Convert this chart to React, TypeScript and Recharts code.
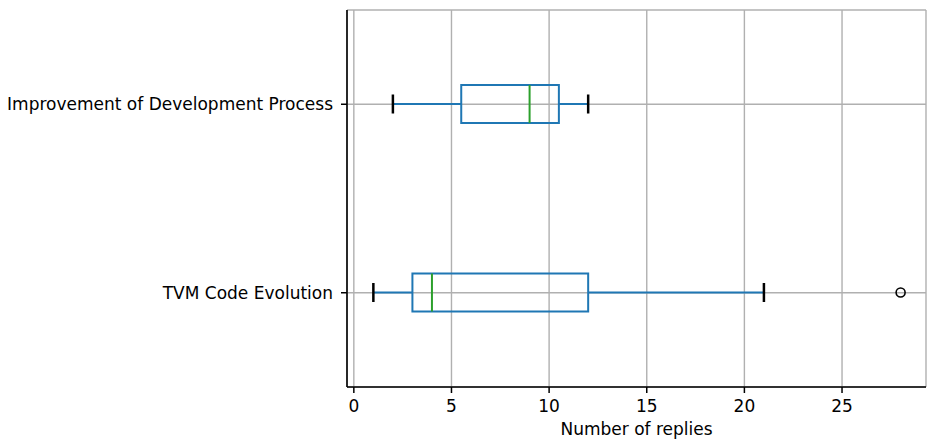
import { Bar, CartesianGrid, ComposedChart, XAxis, YAxis } from 'recharts';

// replies per topic
const categories = ['Improvement of Development Process', 'TVM Code Evolution'];
const whiskerLow = [2, 1];
const quartile1 = [5.5, 3];
const medians = [9, 4];
const quartile3 = [10.5, 12];
const whiskerHigh = [12, 21];
const outliers: number[][] = [[], [28]];
const xTicks = [0, 5, 10, 15, 20, 25];

const data = categories.map((name, i) => {
  const all = [whiskerLow[i], whiskerHigh[i], ...outliers[i]];
  return {
    name,
    lo: whiskerLow[i],
    q1: quartile1[i],
    med: medians[i],
    q3: quartile3[i],
    hi: whiskerHigh[i],
    out: outliers[i],
    span: [Math.min(...all), Math.max(...all)],
  };
});

const BLUE = '#1f77b4';
const GREEN = '#2ca02c';
const FONT = 'DejaVu Sans';
const X_DOMAIN: [number, number] = [-0.35, 29.3];

// the bar spans the full range of the box, so its x/width give the scale
function BoxShape(props: any) {
  const { x, y, width, height, payload } = props;
  const [a, b] = payload.span;
  const px = (v: number) => x + ((v - a) / (b - a)) * width;
  const cy = y + height / 2;
  const top = y;
  const bottom = y + height;
  const cap = height / 4;
  return (
    <g>
      <line x1={px(payload.lo)} x2={px(payload.q1)} y1={cy} y2={cy} stroke={BLUE} strokeWidth={2} />
      <line x1={px(payload.q3)} x2={px(payload.hi)} y1={cy} y2={cy} stroke={BLUE} strokeWidth={2} />
      <rect
        x={px(payload.q1)}
        y={top}
        width={px(payload.q3) - px(payload.q1)}
        height={bottom - top}
        fill="none"
        stroke={BLUE}
        strokeWidth={2}
      />
      <line x1={px(payload.med)} x2={px(payload.med)} y1={top} y2={bottom} stroke={GREEN} strokeWidth={2} />
      <line x1={px(payload.lo)} x2={px(payload.lo)} y1={cy - cap} y2={cy + cap} stroke="#000" strokeWidth={2.5} />
      <line x1={px(payload.hi)} x2={px(payload.hi)} y1={cy - cap} y2={cy + cap} stroke="#000" strokeWidth={2.5} />
      {payload.out.map((v: number, k: number) => (
        <circle key={k} cx={px(v)} cy={cy} r={4.5} fill="none" stroke="#000" strokeWidth={1.6} />
      ))}
    </g>
  );
}

export default function App() {
  return (
    <div style={{ position: 'absolute', left: 0, top: 0 }}>
      <ComposedChart
        width={927}
        height={439}
        data={data}
        layout="vertical"
        margin={{ top: 10, right: 1, bottom: 0, left: 0 }}
        style={{ fontFamily: FONT }}
      >
        <CartesianGrid stroke="#b0b0b0" strokeWidth={1.4} />
        <XAxis
          type="number"
          domain={X_DOMAIN}
          ticks={xTicks}
          allowDataOverflow
          height={52}
          tickSize={6}
          tickMargin={7}
          tick={{ fill: '#000', fontSize: 17, fontFamily: FONT }}
          tickLine={{ stroke: '#000', strokeWidth: 1.5 }}
          axisLine={{ stroke: '#000', strokeWidth: 1.6 }}
          label={{ value: 'Number of replies', position: 'insideBottom', offset: 4, fill: '#000', fontSize: 17, fontFamily: FONT }}
        />
        <XAxis
          xAxisId="top"
          orientation="top"
          type="number"
          domain={X_DOMAIN}
          allowDataOverflow
          height={0}
          tick={false}
          tickLine={false}
          axisLine={{ stroke: '#000', strokeWidth: 1.6 }}
        />
        <YAxis
          type="category"
          dataKey="name"
          width={347}
          tickSize={6}
          tickMargin={8}
          tick={{ fill: '#000', fontSize: 17, fontFamily: FONT }}
          tickLine={{ stroke: '#000', strokeWidth: 1.5 }}
          axisLine={{ stroke: '#000', strokeWidth: 1.6 }}
        />
        <YAxis
          yAxisId="right"
          orientation="right"
          type="category"
          dataKey="name"
          width={0}
          tick={false}
          tickLine={false}
          axisLine={{ stroke: '#000', strokeWidth: 1.6 }}
        />
        <Bar dataKey="span" barSize={38} shape={BoxShape} isAnimationActive={false} />
      </ComposedChart>
    </div>
  );
}
